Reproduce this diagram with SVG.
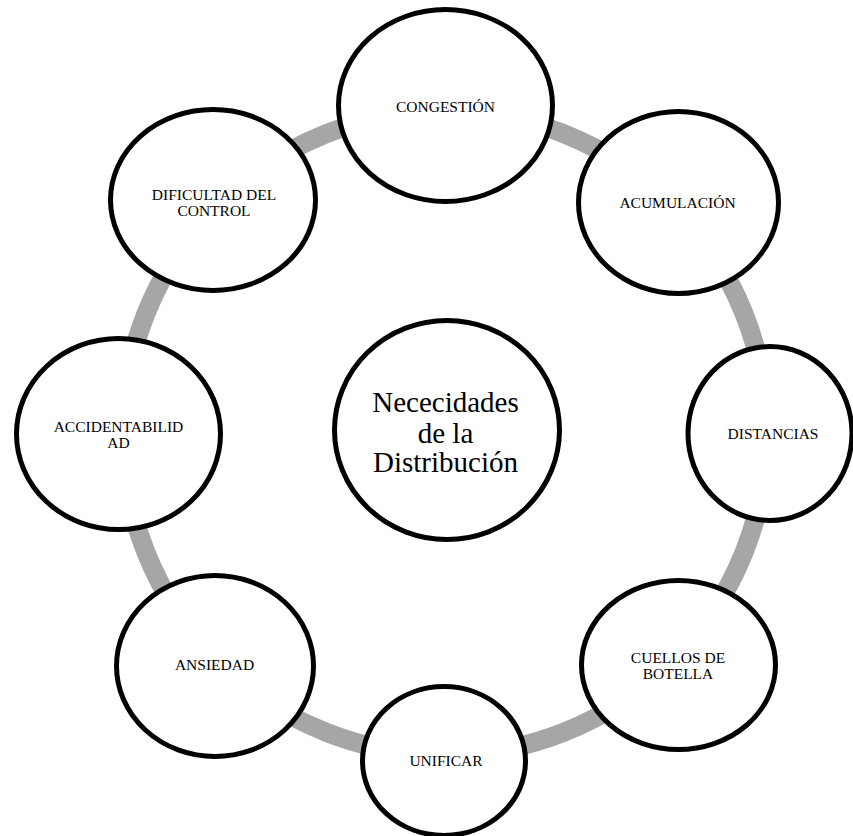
<svg xmlns="http://www.w3.org/2000/svg" width="853" height="836" viewBox="0 0 853 836">
  <style>
    .node { fill: #ffffff; stroke: #000000; stroke-width: 5; }
    .lbl { font-family: "Liberation Serif", "Times New Roman", serif; font-size: 15.5px; fill: #000000; text-anchor: middle; }
    .hub { font-family: "Liberation Serif", "Times New Roman", serif; font-size: 29px; fill: #000000; text-anchor: middle; }
    .ring { fill: none; stroke: #a6a6a6; stroke-width: 19; }
  </style>
  <rect width="853" height="836" fill="#ffffff"/>

  <!-- cycle ring linking the outer nodes -->
  <g id="connectors">
    <circle class="ring" cx="445" cy="433" r="322"/>
  </g>

  <g id="node-congestion">
    <ellipse class="node" cx="445.5" cy="105.5" rx="107" ry="96"/>
    <text class="lbl" x="445.5" y="111.5">CONGESTIÓN</text>
  </g>

  <g id="node-acumulacion">
    <ellipse class="node" cx="678.5" cy="202.5" rx="100" ry="91"/>
    <text class="lbl" x="677.5" y="207.5">ACUMULACIÓN</text>
  </g>

  <g id="node-distancias">
    <ellipse class="node" cx="770" cy="433.5" rx="82" ry="87"/>
    <text class="lbl" x="773" y="439">DISTANCIAS</text>
  </g>

  <g id="node-cuellos">
    <ellipse class="node" cx="678.5" cy="665" rx="97" ry="84.5"/>
    <text class="lbl" x="678" y="662.5">CUELLOS DE</text>
    <text class="lbl" x="678" y="679">BOTELLA</text>
  </g>

  <g id="node-unificar">
    <ellipse class="node" cx="444" cy="761" rx="81.5" ry="74.5"/>
    <text class="lbl" x="446" y="765.5">UNIFICAR</text>
  </g>

  <g id="node-ansiedad">
    <ellipse class="node" cx="215" cy="666" rx="98.5" ry="90.5"/>
    <text class="lbl" x="214.5" y="670">ANSIEDAD</text>
  </g>

  <g id="node-accidentabilidad">
    <ellipse class="node" cx="118.5" cy="434" rx="102" ry="95.5"/>
    <text class="lbl" x="118.5" y="431.5">ACCIDENTABILID</text>
    <text class="lbl" x="118.5" y="447.5">AD</text>
  </g>

  <g id="node-dificultad">
    <ellipse class="node" cx="213" cy="200" rx="102.5" ry="90.5"/>
    <text class="lbl" x="214" y="200">DIFICULTAD DEL</text>
    <text class="lbl" x="214" y="216">CONTROL</text>
  </g>

  <g id="node-centro">
    <ellipse class="node" cx="447" cy="430" rx="112.5" ry="109.5"/>
    <text class="hub" x="445.5" y="412">Nececidades</text>
    <text class="hub" x="445.5" y="442.5">de la</text>
    <text class="hub" x="445.5" y="471.5">Distribución</text>
  </g>
</svg>
